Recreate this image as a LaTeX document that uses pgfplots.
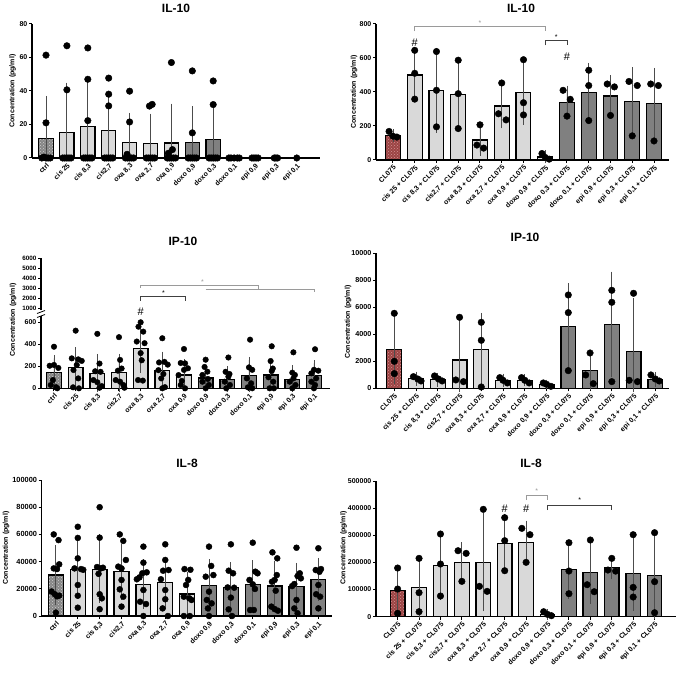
\documentclass[border=0pt]{standalone}
\usepackage{fontspec}
\setmainfont{Liberation Sans}
\usepackage{pgfplots}
\pgfplotsset{compat=1.18}
\usetikzlibrary{patterns}
\definecolor{lightbar}{HTML}{D9D9D9}
\definecolor{darkbar}{HTML}{808080}
\definecolor{ctrlbar}{HTML}{858585}
\definecolor{ctrldot}{HTML}{CFCFCF}
\definecolor{clbar}{HTML}{9C4444}
\definecolor{cldot}{HTML}{D49494}
\definecolor{sig}{HTML}{9A9A9A}
\newcommand\ticklab{\bfseries\fontsize{7}{8}\selectfont}
\newcommand\bigticklab{\bfseries\fontsize{7.4}{8.5}\selectfont}
\newcommand\xlab{\bfseries\fontsize{7}{8}\selectfont}
\newcommand\ttl{\bfseries\fontsize{12}{14}\selectfont}
\pgfplotsset{
  panel/.style={
    scale only axis, clip=false, anchor=south west,
    axis x line*=bottom, axis y line*=left,
    axis line style={line width=1.2pt},
    every tick/.style={line width=1pt, black},
    major tick length=3pt, tick align=outside,
    ymin=0,
    xtick={0,1,2,3,4,5,6,7,8,9,10,11,12},
    x tick label style={rotate=45, anchor=north east, font=\xlab, inner sep=1pt},
    y tick label style={font=\ticklab, inner sep=1.5pt},
    scaled y ticks=false,
    /pgf/number format/fixed, /pgf/number format/1000 sep={}, /pgf/number format/assume math mode=true,
  },
  leftcats/.style={xticklabels={ctrl,{cis 25},{cis 8,3},{cis2,7},{oxa 8,3},{oxa 2,7},{oxa 0,9},{doxo 0,9},{doxo 0,3},{doxo 0,1},{epi 0,9},{epi 0,3},{epi 0,1}}},
  rightcats/.style={xticklabels={CL075,{cis 25 + CL075},{cis 8,3 + CL075},{cis2,7 + CL075},{oxa 8,3 + CL075},{oxa 2,7 + CL075},{oxa 0,9 + CL075},{doxo 0,9 + CL075},{doxo 0,3 + CL075},{doxo 0,1 + CL075},{epi 0,9 + CL075},{epi 0,3 + CL075},{epi 0,1 + CL075}}},
  bars/.style={ybar, bar width=0.68, bar shift=0pt, draw=black, line width=1.2pt,
    error bars/y dir=both, error bars/y explicit,
    error bars/error bar style={line width=0.9pt, black!70},
    error bars/error mark options={line width=0.9pt, black!70, mark size=3.3pt}},
  ctrlstyle/.style={bars, fill=ctrlbar, postaction={pattern=crosshatch dots, pattern color=ctrldot}},
  clstyle/.style={bars, fill=clbar, postaction={pattern=crosshatch dots, pattern color=cldot}},
  lightstyle/.style={bars, fill=lightbar},
  darkstyle/.style={bars, fill=darkbar},
  dots/.style={only marks, mark=*, mark size=#1, black, mark options={solid, fill=black, draw=black}},
  dots/.default=3.3pt,
}
\begin{document}
\begin{tikzpicture}
\useasboundingbox (0,0) rectangle (676pt,672pt);

% ---------------- Panel 1: IL-10 left
\begin{axis}[panel, leftcats, at={(32pt,514pt)}, width=288pt, height=134pt,
  xmin=-0.67, xmax=13.11, ymax=80, ytick={0,20,40,60,80}]
\addplot[ctrlstyle] coordinates {(0,11.8) += (0,23.3) -= (0,11.8)};
\addplot[lightstyle] coordinates {(1,15.2) += (0,27.8) -= (0,15.2) (2,19) += (0,27.5) -= (0,19) (3,16.4) += (0,20.6) -= (0,16.4) (4,9.2) += (0,15.8) -= (0,9.2) (5,8.8) += (0,15.7) -= (0,8.8) (6,9) += (0,21.5) -= (0,9)};
\addplot[darkstyle] coordinates {(7,9.4) += (0,19.6) -= (0,9.4) (8,11) += (0,20) -= (0,11) (9,0) += (0,0) -= (0,0) (10,0) += (0,0) -= (0,0) (11,0) += (0,0) -= (0,0) (12,0) += (0,0) -= (0,0)};
\addplot[dots] coordinates {
(0,61.4)(0,21)(-0.2,0)(-0.1,0.5)(0,0)(0.1,0)(0.2,0)
(1,67)(1,40.7)(0.8,0)(0.9,0)(1,0)(1.1,0)(1.2,0)
(2,65.7)(2,47)(2,22.3)(1.8,0)(1.9,0)(2,0)(2.1,0)(2.2,0)
(3,47.7)(3,38.1)(3,31.1)(2.8,0)(2.9,0)(3,0)(3.1,0)(3.2,0)
(4,39.9)(4,21.5)(3.88,2.2)(3.8,0)(3.9,0)(4,0)(4.1,0)(4.2,0)
(4.95,31)(5.08,32)(4.8,0)(4.9,0)(5,0)(5.1,0)(5.2,0)
(6,57)(6.05,5)(5.85,2.8)(5.8,0)(5.9,0)(6,0)(6.1,0)(6.2,0)
(7,52)(7,15)(6.8,0)(6.9,0)(7,0)(7.1,0)(7.2,0)
(8,46)(8,31.9)(7.8,0)(7.9,0)(8,0)(8.1,0)(8.2,0)
(8.75,0)(8.85,0)(9,0)(9.15,0)(9.25,0)
(9.85,0)(9.95,0)(10.05,0)(10.15,0)
(10.92,0)(11,0)(11.08,0)
(12,0)};
\end{axis}

% ---------------- Panel 2: IL-10 right
\begin{axis}[panel, rightcats, at={(376pt,512pt)}, width=293pt, height=136pt,
  xmin=-0.78, xmax=12.69, ymax=800, ytick={0,200,400,600,800}]
\addplot[clstyle] coordinates {(0,142) += (0,18) -= (0,18)};
\addplot[lightstyle] coordinates {(1,500) += (0,142) -= (0,142) (2,411) += (0,231) -= (0,231) (3,385) += (0,199) -= (0,199) (4,118) += (0,87) -= (0,73) (5,318) += (0,118) -= (0,113) (6,395) += (0,170) -= (0,167) (7,18) += (0,22) -= (0,18)};
\addplot[darkstyle] coordinates {(8,340) += (0,78) -= (0,78) (9,398) += (0,154) -= (0,158) (10,376) += (0,104) -= (0,106) (11,346) += (0,180) -= (0,178) (12,330) += (0,193) -= (0,188)};
\addplot[dots] coordinates {
(-0.18,168)(0,140)(0.18,135)
(1,645)(1,510)(1,358)
(2,638)(2,410)(2,195)
(3,587)(3,390)(3,185)
(4,207)(3.86,88)(4.17,70)
(5,453)(4.85,272)(5.2,236)
(6,590)(6,337)(6,265)
(6.85,38)(7,15)(7.18,5)
(7.82,410)(8.15,357)(8,258)
(9,528)(9,438)(9,232)
(9.85,447)(10.18,430)(10,262)
(10.85,462)(11.23,438)(11,142)
(11.85,447)(12.2,438)(12,112)};
\draw[sig, line width=0.8pt] (axis cs:1,756) -- (axis cs:1,786) -- (axis cs:7,786) -- (axis cs:7,756);
\node[sig, font=\fontsize{7}{8}\selectfont] at (axis cs:4,806) {*};
\draw[black!75, line width=0.8pt] (axis cs:7,674) -- (axis cs:7,701) -- (axis cs:8,701) -- (axis cs:8,674);
\node[font=\fontsize{7}{8}\selectfont] at (axis cs:7.5,722) {*};
\node[font=\fontsize{11}{12}\selectfont] at (axis cs:1,691) {\#};
\node[font=\fontsize{11}{12}\selectfont] at (axis cs:8,605) {\#};
\end{axis}

% ---------------- Panel 3: IP-10 left (broken axis)
\begin{axis}[panel, leftcats, at={(41pt,283.7pt)}, width=289pt, height=72.6pt,
  xmin=-0.6, xmax=12.74, ymax=660, ytick={0,200,400,600}]
\addplot[ctrlstyle] coordinates {(0,145) += (0,128) -= (0,128)};
\addplot[lightstyle] coordinates {(1,191) += (0,151) -= (0,151) (2,135) += (0,147) -= (0,135) (3,140) += (0,142) -= (0,140) (4,360) += (0,150) -= (0,187) (5,164) += (0,139) -= (0,139) (6,121) += (0,112) -= (0,112)};
\addplot[darkstyle] coordinates {(7,94) += (0,76) -= (0,76) (8,79) += (0,91) -= (0,79) (9,118) += (0,137) -= (0,118) (10,121) += (0,117) -= (0,117) (11,80) += (0,99) -= (0,80) (12,118) += (0,109) -= (0,109)};
\addplot[dots=2.8pt] coordinates {
(0,378)(-0.2,205)(0,212)(0.2,185)(-0.05,75)(-0.15,30)(0.1,10)(0.15,0)
(1,524)(0.82,272)(1.12,263)(1.28,249)(1.05,212)(0.9,166)(1.12,90)(0.88,9)(1.15,0)
(2,495)(2.1,225)(1.9,155)(2.15,150)(1.82,75)(2,55)(2.2,20)(2.1,5)
(3,465)(3.05,258)(3.12,180)(2.95,160)(2.85,75)(3.05,60)(3.2,30)(3.25,5)
(4,600)(3.9,560)(4.12,515)(3.82,425)(4.18,410)(4,320)(4.05,255)(3.88,75)(4.1,70)
(5,455)(4.85,235)(5.1,240)(5.25,215)(4.82,165)(5.05,130)(4.95,90)(5.12,10)(5,0)
(6,357)(5.85,230)(6.05,227)(6.18,182)(6,167)(5.75,120)(5.9,67)(5.85,30)(6.05,0)
(7,260)(6.95,194)(7.08,151)(6.85,121)(7.1,85)(6.85,60)(7.15,30)(7,0)
(8.05,280)(7.92,150)(8.1,130)(8.05,106)(7.88,60)(8.12,30)(7.95,0)
(9.05,442)(9,190)(9.15,168)(8.9,90)(9.1,45)(8.95,9)(9.15,0)
(10.05,382)(10,248)(10.1,180)(10.05,157)(9.9,100)(10.12,60)(9.95,0)(10.15,0)
(11.05,327)(11,142)(11.12,121)(11.05,90)(10.88,60)(11.15,30)(11,0)
(12.05,355)(12,168)(12.2,160)(11.88,136)(12.1,90)(11.88,60)(12.05,30)(12,0)};
\node[font=\fontsize{11}{12}\selectfont] at (axis cs:4,700) {\#};
\end{axis}
\begin{axis}[panel, at={(41pt,361.7pt)}, width=289pt, height=52pt,
  xmin=-0.6, xmax=12.74, ymin=800, ymax=6000, axis x line=none, xtick=\empty,
  ytick={1000,2000,3000,4000,5000,6000},
  y tick label style={font=\bfseries\fontsize{6.3}{7}\selectfont}]
\addplot[draw=none] coordinates {(0,1000)};
\draw[sig, line width=0.8pt] (axis cs:4,3050) -- (axis cs:4,3300) -- (axis cs:9.43,3300) -- (axis cs:9.43,2900);
\draw[sig, line width=0.8pt] (axis cs:7,2900) -- (axis cs:12,2900) -- (axis cs:12,2650);
\node[sig, font=\fontsize{7}{8}\selectfont] at (axis cs:6.85,3650) {*};
\draw[black!75, line width=0.8pt] (axis cs:4,1750) -- (axis cs:4,2160) -- (axis cs:6.05,2160) -- (axis cs:6.05,1750);
\node[font=\fontsize{7}{8}\selectfont] at (axis cs:5.05,2500) {*};
\end{axis}
\draw[line width=0.8pt] (37pt,354.5pt) -- (45pt,357.5pt);
\draw[line width=0.8pt] (37pt,358.5pt) -- (45pt,361.5pt);

% ---------------- Panel 4: IP-10 right
\begin{axis}[panel, rightcats, at={(376pt,283.7pt)}, width=293pt, height=135pt,
  xmin=-0.84, xmax=12.63, ymax=10000, ytick={0,2000,4000,6000,8000,10000},
  y tick label style={font=\bfseries\fontsize{7.2}{8}\selectfont}]
\addplot[clstyle] coordinates {(0,2850) += (0,2400) -= (0,2300)};
\addplot[lightstyle] coordinates {(1,700) += (0,300) -= (0,300) (2,630) += (0,270) -= (0,270) (3,2100) += (0,2750) -= (0,2100) (4,2850) += (0,2500) -= (0,2500) (5,590) += (0,260) -= (0,260) (6,590) += (0,210) -= (0,210) (7,280) += (0,120) -= (0,120)};
\addplot[darkstyle] coordinates {(8,4580) += (0,2970) -= (0,2930) (9,1310) += (0,1290) -= (0,1160) (10,4700) += (0,3700) -= (0,3650) (11,2700) += (0,3750) -= (0,2700) (12,650) += (0,300) -= (0,300)};
\addplot[dots] coordinates {
(0,5555)(0,2000)(0,1086)
(0.88,864)(1.08,691)(1.23,543)
(1.85,914)(2.03,691)(2.2,543)
(3,5259)(2.83,617)(3.18,494)
(4,4889)(4,3555)(4,99)
(4.85,790)(5,593)(5.2,395)
(5.85,790)(6,593)(6.2,395)
(6.85,395)(7,296)(7.2,148)
(8,6913)(8,5605)(8,1309)
(9,2617)(8.8,988)(9.15,346)
(10,7259)(10,6370)(10,494)
(11,7037)(10.8,593)(11.18,494)
(11.8,988)(12,691)(12.18,543)};
\end{axis}

% ---------------- Panel 5: IL-8 left
\begin{axis}[panel, leftcats, at={(41.7pt,56pt)}, width=290pt, height=136pt,
  xmin=-0.65, xmax=12.61, ymax=100000, ytick={0,20000,40000,60000,80000,100000},
  y tick label style={font=\bigticklab}]
\addplot[ctrlstyle] coordinates {(0,30100) += (0,19400) -= (0,19300)};
\addplot[lightstyle] coordinates {(1,34300) += (0,19100) -= (0,19300) (2,34300) += (0,23300) -= (0,22300) (3,32600) += (0,17900) -= (0,18100) (4,23300) += (0,15900) -= (0,15800) (5,24500) += (0,16700) -= (0,17100) (6,16200) += (0,13800) -= (0,12700)};
\addplot[darkstyle] coordinates {(7,22300) += (0,16900) -= (0,16800) (8,21100) += (0,15900) -= (0,16100) (9,23300) += (0,15200) -= (0,15300) (10,22100) += (0,15900) -= (0,16100) (11,21800) += (0,14900) -= (0,14800) (12,27000) += (0,13400) -= (0,13500)};
\addplot[dots=3pt] coordinates {
(-0.1,60000)(0.12,55800)(0.15,38000)(-0.1,35000)(0.05,34500)(-0.2,18000)(-0.05,16000)(0.15,15000)(0.05,14500)(0,2500)
(1,65600)(1,57400)(1,42400)(0.85,35000)(1.15,34500)(1.25,34000)(1,22800)(1,14900)(1,6100)
(2,80000)(2,57600)(1.88,36000)(2.15,35500)(2.05,35000)(1.95,31000)(2,16000)(2.1,13000)(2,5000)
(2.92,60000)(3.08,55200)(3.2,41200)(2.85,36300)(3,35000)(3,26500)(2.92,19600)(3.08,14200)(3,6900)
(4,51000)(4,39200)(4.15,32100)(3.95,31400)(3.82,28400)(3.7,27000)(4,19100)(3.85,10500)(4.12,8800)(4,0)
(5,52700)(5,41200)(5.15,33800)(4.9,33300)(4.8,27000)(5,19100)(5,12300)(4.88,5600)(5.12,0)
(5.88,34500)(6.15,34000)(6.05,26500)(5.95,22800)(5.85,14200)(6.1,13000)(6.2,11800)(5.85,0)(6.12,0)
(7,51000)(7.1,36800)(7.2,30100)(6.85,28900)(7,17900)(6.9,11800)(7.12,9300)(6.95,5600)(7,0)
(8,52700)(7.9,33300)(8.1,31400)(7.85,21000)(8.15,20800)(8,13500)(7.9,4900)(8.05,0)
(9,53900)(9.12,32600)(9.22,31400)(8.85,26500)(9,23300)(9.1,19900)(8.88,4400)(9.05,4400)
(9.9,46800)(10.12,42400)(10.1,30100)(10,26500)(9.88,25200)(10.05,18600)(9.85,6900)(10,5100)(10.15,3900)
(11,50200)(11.15,31400)(11.05,29400)(11.2,27700)(10.9,23500)(10.8,22000)(11,11800)(10.9,5600)(11.05,2000)
(12,49800)(11.88,33800)(12.12,34500)(12.05,32500)(12,22800)(11.9,16000)(12.08,14200)(12,5600)};
\end{axis}

% ---------------- Panel 6: IL-8 right
\begin{axis}[panel, rightcats, at={(376pt,55.3pt)}, width=300pt, height=135.7pt,
  xmin=-1.01, xmax=13, ymax=500000, ytick={0,100000,200000,300000,400000,500000},
  y tick label style={font=\bfseries\fontsize{7}{8}\selectfont}]
\addplot[clstyle] coordinates {(0,96000) += (0,79000) -= (0,79000)};
\addplot[lightstyle] coordinates {(1,107000) += (0,105000) -= (0,99000) (2,190000) += (0,115000) -= (0,115000) (3,200000) += (0,63000) -= (0,63000) (4,200000) += (0,170000) -= (0,168000) (5,270000) += (0,98000) -= (0,98000) (6,273000) += (0,69000) -= (0,69000) (7,9000) += (0,8000) -= (0,8000)};
\addplot[darkstyle] coordinates {(8,175000) += (0,97000) -= (0,97000) (9,163000) += (0,105000) -= (0,103000) (10,180000) += (0,30000) -= (0,30000) (11,160000) += (0,125000) -= (0,125000) (12,152000) += (0,150000) -= (0,150000)};
\addplot[dots] coordinates {
(0,179400)(0,102000)(0,12300)
(1,215000)(1,88500)(1,18400)
(2,304700)(2,194100)(2,76200)
(2.82,243200)(3.2,233400)(3,130200)
(4,395600)(3.82,111800)(4.18,93400)
(5,364900)(5,280100)(5,169500)
(5.8,325600)(6.18,302200)(6,200300)
(6.82,18400)(7,8600)(7.18,3700)
(8,272700)(8,168300)(8,84800)
(9,282600)(8.85,117900)(9.18,92100)
(10,215000)(9.82,172000)(10.18,168000)
(11,302200)(11,108100)(11,72500)
(12,309600)(12,129000)(12,14700)};
\draw[sig, line width=0.8pt] (axis cs:6,430000) -- (axis cs:6,446000) -- (axis cs:7,446000) -- (axis cs:7,430000);
\node[sig, font=\fontsize{7}{8}\selectfont] at (axis cs:6.5,462000) {*};
\draw[black!75, line width=0.8pt] (axis cs:7,393000) -- (axis cs:7,411500) -- (axis cs:10,411500) -- (axis cs:10,393000);
\node[font=\fontsize{7}{8}\selectfont] at (axis cs:8.5,428000) {*};
\node[font=\fontsize{11}{12}\selectfont] at (axis cs:5,399000) {\#};
\node[font=\fontsize{11}{12}\selectfont] at (axis cs:6,399000) {\#};
\end{axis}

% ---------------- titles and y labels
\node[font=\ttl] at (176pt,664pt) {IL-10};
\node[font=\ttl] at (521pt,664pt) {IL-10};
\node[font=\ttl] at (183pt,431pt) {IP-10};
\node[font=\ttl] at (525pt,435pt) {IP-10};
\node[font=\ttl] at (187pt,209pt) {IL-8};
\node[font=\ttl] at (531pt,209pt) {IL-8};
\node[rotate=90, font=\ticklab] at (12.7pt,581pt) {Concentration (pg/ml)};
\node[rotate=90, font=\ticklab] at (354pt,580pt) {Concentration (pg/ml)};
\node[rotate=90, font=\ticklab] at (13pt,352pt) {Concentration (pg/ml)};
\node[rotate=90, font=\ticklab] at (348pt,350pt) {Concentration (pg/ml)};
\node[rotate=90, font=\ticklab] at (6pt,124pt) {Concentration (pg/ml)};
\node[rotate=90, font=\ticklab] at (343.5pt,124pt) {Concentration (pg/ml)};
\end{tikzpicture}
\end{document}
